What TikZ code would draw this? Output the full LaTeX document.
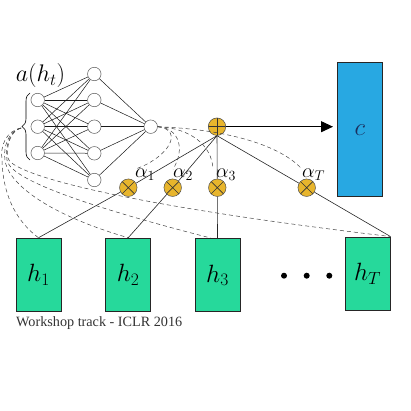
\RequirePackage{fix-cm}
\documentclass[tikz,border=0pt]{standalone}
\usepackage{amsmath}
\usepackage{fontspec}
\newfontfamily\wsfont{Liberation Serif}
\usetikzlibrary{arrows.meta,decorations.pathreplacing}
\definecolor{hgreen}{HTML}{26D99B}
\definecolor{cblue}{HTML}{28A8E2}
\definecolor{gold}{HTML}{E8B52C}
\definecolor{navy}{HTML}{1B2F5E}
\begin{document}
\begin{tikzpicture}[x=1pt,y=-1pt,
 neuron/.style={circle,draw=black!65,fill=white,line width=0.5pt,minimum size=13.5pt,inner sep=0pt},
 conn/.style={line width=0.5pt,black!90},
 gate/.style={circle,draw=black!70,fill=gold,line width=0.5pt,minimum size=17.5pt,inner sep=0pt},
 mulgate/.style={gate,path picture={\draw[line width=0.6pt,black!80] (path picture bounding box.south west)--(path picture bounding box.north east) (path picture bounding box.north west)--(path picture bounding box.south east);}},
 sumgate/.style={gate,path picture={\draw[line width=0.6pt,black!80] (path picture bounding box.north)--(path picture bounding box.south) (path picture bounding box.west)--(path picture bounding box.east);}},
 hbox/.style={rectangle,draw=black!85,fill=hgreen,line width=1pt,minimum width=45pt,minimum height=73.5pt,inner sep=0pt,font=\fontsize{25}{28}\selectfont},
 alab/.style={inner sep=0pt,anchor=base west,font=\fontsize{20}{22}\selectfont},
 att/.style={dash pattern=on 4pt off 3pt,line width=0.5pt,black!75},
 wire/.style={line width=0.6pt,black!85},
 dotnode/.style={circle,fill=black,minimum size=6pt,inner sep=0pt}
 ]
\useasboundingbox (0,0) rectangle (411,411);

% network
\node[neuron] (i1) at (37.7,100) {};
\node[neuron] (i2) at (37.7,126.7) {};
\node[neuron] (i3) at (37.7,153) {};
\node[neuron] (j1) at (94.3,74) {};
\node[neuron] (j2) at (94.3,100) {};
\node[neuron] (j3) at (94.3,126.7) {};
\node[neuron] (j4) at (94.3,153.3) {};
\node[neuron] (j5) at (94.3,180) {};
\node[neuron] (o) at (150.7,126.7) {};
\foreach \a in {1,2,3} \foreach \b in {1,...,5} \draw[conn] (i\a) -- (j\b);
\foreach \b in {1,...,5} \draw[conn] (j\b) -- (o);

\node[font=\fontsize{24}{26}\selectfont] (alabel) at (40.5,76) {$a(h_t)$};
\draw[decorate,decoration={brace,amplitude=8pt},line width=0.6pt] (30,160) -- (30,93);
\coordinate (tip) at (21,128);

% gates
\node[sumgate] (s) at (217,126.7) {};
\node[mulgate] (m1) at (128.3,187.7) {};
\node[mulgate] (m2) at (172.7,187.7) {};
\node[mulgate] (m3) at (217.3,187.7) {};
\node[mulgate] (mT) at (306.7,187.7) {};
\node[alab] (l1) at (135,178) {$\alpha_1$};
\node[alab] (l2) at (173,178) {$\alpha_2$};
\node[alab] (l3) at (216,178) {$\alpha_3$};
\node[alab] (lT) at (302,178) {$\alpha_T$};

% context
\node[rectangle,draw=black!85,fill=cblue,line width=1pt,minimum width=45pt,minimum height=134pt,inner sep=0pt,text=navy,font=\fontsize{25}{27}\selectfont] (c) at (360,129.7) {$c$};
\draw[line width=1pt,-{Triangle[length=12pt,width=11pt]},shorten >=4pt] (s.east) -- (s.east -| c.west);

% hidden states
\node[hbox] (h1) at (38.5,275) {$h_1$};
\node[hbox] (h2) at (128.2,275) {$h_2$};
\node[hbox] (h3) at (217.5,275.2) {$h_3$};
\node[hbox] (hT) at (367.5,273.8) {$h_T$};
\node[dotnode] (d1) at (284,275.7) {};
\node[dotnode] (d2) at (306.7,275.7) {};
\node[dotnode] (d3) at (329.3,275.7) {};

% solid wires
\draw[wire] (s.south) -- (m1);
\draw[wire] (s.south) -- (m2);
\draw[wire] (s.south) -- (m3);
\draw[wire] (s.south) -- (mT);
\draw[wire] (m1) -- (h1.north);
\draw[wire] (m2) -- (h2.north);
\draw[wire] (m3) -- (h3.north);
\draw[wire] (mT) -- (hT.north east);

% attention dashed curves
\draw[att] (o.east) .. controls (185,130) and (168,158) .. (l1.north west);
\draw[att] (o.east) .. controls (180,128) and (185,150) .. (l2.north west);
\draw[att] (o.east) .. controls (190,128) and (212,145) .. ([xshift=-3pt]l3.north west);
\draw[att] (o.east) .. controls (240,130) and (285,150) .. (lT.north west);

\draw[att] (tip) .. controls (6,131) and (0,146) .. (2,160) .. controls (3,200) and (20,224) .. (h1.north);
\draw[att] (tip) .. controls (8,131) and (3,148) .. (5,160) .. controls (7,180) and (40,212) .. (h2.north);
\draw[att] (tip) .. controls (9,131) and (5,148) .. (7,160) .. controls (9,177) and (70,202) .. ([xshift=-7pt]h3.north);
\draw[att] (tip) .. controls (10,131) and (6,147) .. (8,158) .. controls (10,172) and (100,202) .. (hT.north east);

\node[font=\wsfont\fontsize{14.2}{16}\selectfont,text=black!80,anchor=west,inner sep=0pt] (ws) at (16,322.7) {Workshop track - ICLR 2016};
\end{tikzpicture}
\end{document}
